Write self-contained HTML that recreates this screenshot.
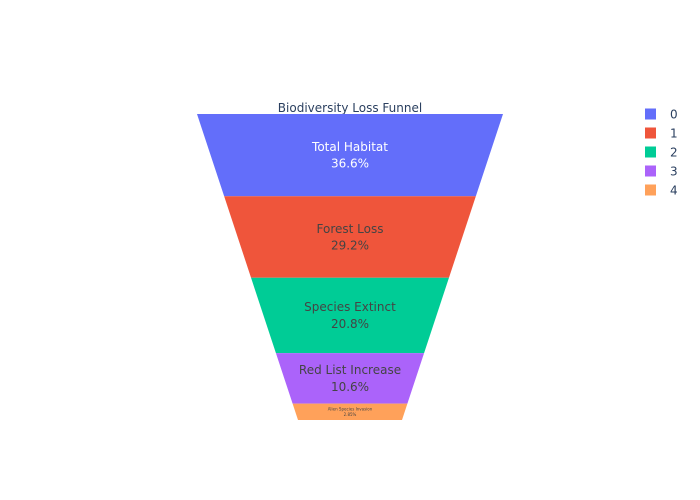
<!DOCTYPE html>
<html><head><meta charset="utf-8"><style>
body{margin:0;background:#fff;}
svg{display:block;font-family:"DejaVu Sans","Liberation Sans",sans-serif;}
</style></head><body>
<svg id="chart" width="700" height="500">
<text x="350" y="112" text-anchor="middle" font-size="12" fill="#2a3f5f">Biodiversity Loss Funnel</text>
<g id="slices"></g>
<g id="legend"></g>
</svg>
<script>
const labels = ["Total Habitat","Forest Loss","Species Extinct","Red List Increase","Alien Species Invasion"];
const values = [36.6, 29.2, 20.8, 10.6, 2.85];
const colors = ["#636efa","#EF553B","#00cc96","#ab63fa","#FFA15A"];
const legendNames = ["0","1","2","3","4"];

const NS="http://www.w3.org/2000/svg";
const top0=114, bot=420, H=bot-top0, cx=350, Wt=306, Wb=104;
const total=values.reduce((a,b)=>a+b,0);
const totalArea=H*(Wb+Wt)/2;
const k=(Wt-Wb)/(2*H);
function heightFromBottom(area){
  return (-Wb+Math.sqrt(Wb*Wb+4*k*area))/(2*k);
}
function widthAt(y){ const t=bot-y; return Wb+(Wt-Wb)*t/H; }
const g=document.getElementById('slices');
let cumBelow=total;
for(let i=0;i<values.length;i++){
  const aTop=cumBelow/total*totalArea;
  const aBot=(cumBelow-values[i])/total*totalArea;
  cumBelow-=values[i];
  const yT=bot-heightFromBottom(aTop), yB=bot-heightFromBottom(aBot);
  const wT=widthAt(yT), wB=widthAt(yB);
  const p=document.createElementNS(NS,'polygon');
  p.setAttribute('points',`${cx-wT/2},${yT} ${cx+wT/2},${yT} ${cx+wB/2},${yB} ${cx-wB/2},${yB}`);
  p.setAttribute('fill',colors[i]);
  
  
  g.appendChild(p);
  const pct=(values[i]/total*100).toPrecision(3)+'%';
  const h=yB-yT;
  const fs=h<30?4:12;
  const mid=(yT+yB)/2;
  const fill=i===0?'#fff':'#444';
  [labels[i],pct].forEach((s,j)=>{
    const t=document.createElementNS(NS,'text');
    t.setAttribute('x',cx);
    t.setAttribute('y',mid+(j===0?-fs*0.35:fs*1.05));
    t.setAttribute('text-anchor','middle');
    t.setAttribute('font-size',fs);
    t.setAttribute('fill',fill);
    t.textContent=s;
    
    
    g.appendChild(t);
  });
}
const lg=document.getElementById('legend');
legendNames.forEach((n,i)=>{
  const y=114+i*19;
  const r=document.createElementNS(NS,'rect');
  r.setAttribute('x',645);r.setAttribute('y',y-5.5);r.setAttribute('width',11);r.setAttribute('height',11);
  r.setAttribute('fill',colors[i]);
  
  
  lg.appendChild(r);
  const t=document.createElementNS(NS,'text');
  t.setAttribute('x',670);t.setAttribute('y',y+4.5);t.setAttribute('font-size',12);t.setAttribute('fill','#2a3f5f');
  t.textContent=n;
  
  
  lg.appendChild(t);
});
</script>
</body></html>
